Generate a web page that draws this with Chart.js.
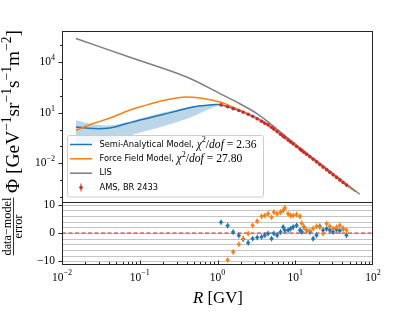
<!DOCTYPE html>
<html>
<head>
<meta charset="utf-8">
<script src="https://cdn.jsdelivr.net/npm/chart.js@4.4.0/dist/chart.umd.min.js"></script>
<style>
html, body { margin: 0; padding: 0; background: #fff; }
#wrap { position: relative; width: 415px; height: 311px; }
canvas { position: absolute; left: 0; top: 0; }
</style>
</head>
<body>
<div id="wrap">
  <canvas id="topChart" width="415" height="311"></canvas>
  <canvas id="resChart" width="415" height="311"></canvas>
</div>
<script>
// LIS
let lisR = [0.0151, 0.0748, 0.401, 1.074, 1.94, 3.18, 4.72, 8.53, 15.4, 34.0, 67.6];
let lisFlux = [2.56e5, 1.98e4, 1340, 138, 34.2, 9.29, 2.38, 0.249, 0.0287, 1.69e-3, 1.44e-4];

// semi-analytical model + its band
let saR = [0.0151, 0.0252, 0.0414, 0.0679, 0.111, 0.182, 0.298, 0.488, 0.724, 1.03, 1.59, 2.48, 4.48, 8.1, 14.0, 30.7, 45.6, 60];
let saFlux = [1.43, 1.15, 1.25, 2.28, 4.11, 7.11, 12.8, 22.1, 27.9, 30.7, 17.8, 8.4, 1.93, 0.236, 0.0343, 0.00205, 0.0005, 2.09e-4];
let bandR = [0.0151, 0.0252, 0.0414, 0.0679, 0.111, 0.182, 0.298, 0.488, 0.724, 1.03];
let bandHi = [3.58, 2.07, 1.81, 2.72, 5.04, 9.33, 15.1, 24.3, 28.6, 31.9];
let bandLo = [0.117, 0.165, 0.232, 0.401, 0.741, 1.37, 2.72, 6.18, 14.1, 27.9];

// force field model
let ffR = [0.0151, 0.0252, 0.0414, 0.0679, 0.111, 0.182, 0.298, 0.401, 0.594, 1.074, 1.59, 2.48, 4.48, 8.1, 14.0, 30.7, 45.6, 60];
let ffFlux = [0.912, 2.28, 4.90, 12.3, 25.3, 48.2, 75.7, 86.7, 75.7, 43.8, 21.0, 8.1, 1.75, 0.225, 0.0344, 0.00206, 0.000503, 2.07e-4];

// AMS BR 2433
let amsR = [1.11, 1.35, 1.59, 1.88, 2.14, 2.48, 2.83, 3.24, 3.69, 4.06, 4.48, 4.96, 5.31, 5.85, 6.47, 6.99, 7.35, 8.10, 8.71, 9.40,
            10.4, 11.5, 12.1, 12.9, 14.0, 15.4, 17.0, 18.8, 20.7, 22.8, 25.3, 27.8, 30.7, 34.0, 37.4, 41.3, 45.6];
let amsFlux = [29.4, 22.7, 17.5, 13.5, 10.7, 8.13, 6.18, 4.40, 3.12, 2.37, 1.91, 1.37, 1.07, 0.762, 0.533, 0.406, 0.340, 0.238, 0.186, 0.142,
               0.0991, 0.0695, 0.0582, 0.0455, 0.0346, 0.0242, 0.0172, 0.0121, 0.00843, 0.00592, 0.00415, 0.00295, 0.00207, 0.00145, 0.00103, 0.000721, 0.000506];

// (data - model) / error
let resSA = [3.8, 2.6, 0.35, -0.9, -2.2, -3.5, -2.0, -1.6, -1.4, -0.8, -0.2, -2.0, -0.2, -0.8, 0.35, 2.1, 1.0, 1.0, 1.5, 2.1,
             2.7, 1.0, 0.4, 2.1, 1.0, 0.4, -2.0, -0.8, 2.4, 1.0, 1.5, 1.0, 0.4, 1.2, 0.8, 1.5, -0.8];
let resFF = [-12.5, -9.6, -6.7, -4.0, -2.0, -0.2, 2.7, 4.2, 5.9, 6.2, 6.8, 5.6, 7.4, 6.8, 7.4, 8.0, 8.9, 6.8, 6.2, 6.2,
             6.6, 5.9, 3.5, 2.1, 1.0, 0.8, 1.6, 2.4, 2.1, -0.2, 3.3, 2.4, 1.5, 2.0, 2.7, 1.6, 1.0];

let xTickExps = [-2, -1, 0, 1, 2];
let topTickExps = [-2, 1, 4];
let resTicks = [-10, 0, 10];
let resGrid = [-10, -8, -6, -4, -2, 0, 2, 4, 6, 8, 10];

const BLUE = '#1f77b4', ORANGE = '#ff7f0e', GREY = '#7f7f7f', RED = '#d62728';
const SERIF = '"Liberation Serif", "DejaVu Serif", serif';
const SANS = '"DejaVu Sans", sans-serif';

let pts = (xs, ys) => xs.map((x, i) => ({ x: x, y: ys[i] }));

// rich text helpers
let N = t => ({ t: t });
let I = t => ({ t: t, it: true });
let S = t => ({ t: t, sup: true });
let fontOf = (s, size) => (s.it ? 'italic ' : '') + (s.sup ? size * 0.7 : size) + 'px ' + SERIF;
let richWidth = (ctx, segs, size) => segs.reduce((w, s) => { ctx.font = fontOf(s, size); return w + ctx.measureText(s.t).width; }, 0);
let drawRich = (ctx, segs, size, x, y) => {
  ctx.textAlign = 'left';
  ctx.textBaseline = 'middle';
  segs.forEach(s => {
    ctx.font = fontOf(s, size);
    ctx.fillText(s.t, x, s.sup ? y - size * 0.36 : y);
    x += ctx.measureText(s.t).width;
  });
};
let powSegs = e => [N('10'), S(e < 0 ? '\u2212' + (-e) : '' + e)];

let spines = (ctx, a) => {
  ctx.strokeStyle = '#262626';
  ctx.lineWidth = 1;
  ctx.strokeRect(Math.round(a.left) + 0.5, Math.round(a.top) + 0.5, Math.round(a.right - a.left) - 1, Math.round(a.bottom - a.top));
};

let topDecor = {
  id: 'topDecor',
  afterDraw(chart) {
    let ctx = chart.ctx, a = chart.chartArea, ys = chart.scales.y;
    ctx.save();
    spines(ctx, a);
    ctx.fillStyle = '#000';
    ctx.strokeStyle = '#262626';
    for (let e = -4; e <= 5; e++) {
      let y = Math.round(ys.getPixelForValue(Math.pow(10, e))) + 0.5;
      let len = topTickExps.includes(e) ? 3.5 : 2;
      ctx.beginPath(); ctx.moveTo(a.left, y); ctx.lineTo(a.left - len, y); ctx.stroke();
    }
    topTickExps.forEach(e => {
      let segs = powSegs(e);
      let w = richWidth(ctx, segs, 11.5);
      drawRich(ctx, segs, 11.5, a.left - 7 - w, ys.getPixelForValue(Math.pow(10, e)));
    });
    // y label
    let yl = [N('\u03A6 [GeV'), S('\u22121'), N('sr'), S('\u22121'), N('s'), S('\u22121'), N('m'), S('\u22122'), N(']')];
    let ysz = 10 * 163 / richWidth(ctx, yl, 10);
    let yw = richWidth(ctx, yl, ysz);
    ctx.save();
    ctx.translate(14, 111.5);
    ctx.rotate(-Math.PI / 2);
    drawRich(ctx, yl, ysz, -yw / 2, 0);
    ctx.restore();

    // legend
    let lx = 67.5, ly = 135.5, lw = 196, lh = 61.5;
    ctx.fillStyle = 'rgba(255,255,255,0.8)';
    ctx.strokeStyle = '#cccccc';
    ctx.lineWidth = 1;
    ctx.beginPath();
    ctx.roundRect(lx, ly, lw, lh, 2);
    ctx.fill(); ctx.stroke();
    let rows = [144.5, 158.8, 173.2, 187.5];
    let names = ['Semi-Analytical Model, ', 'Force Field Model, ', 'LIS', 'AMS, BR 2433'];
    let cols = [BLUE, ORANGE, GREY, RED];
    let maths = [
      [I('\u03C7'), S('2'), N('/'), I('dof'), N(' = 2.36')],
      [I('\u03C7'), S('2'), N('/'), I('dof'), N(' = 27.80')]
    ];
    let msz = 10 * 60 / richWidth(ctx, maths[0], 10);
    rows.forEach((y, i) => {
      ctx.strokeStyle = cols[i];
      ctx.fillStyle = cols[i];
      ctx.lineWidth = 1.5;
      if (i < 3) {
        ctx.beginPath(); ctx.moveTo(70, y); ctx.lineTo(92, y); ctx.stroke();
      } else {
        ctx.lineWidth = 1;
        ctx.beginPath(); ctx.moveTo(81, y - 4); ctx.lineTo(81, y + 4); ctx.stroke();
        ctx.beginPath(); ctx.arc(81, y, 1.8, 0, Math.PI * 2); ctx.fill();
      }
      ctx.fillStyle = '#000';
      ctx.font = '8.3px ' + SANS;
      ctx.textAlign = 'left';
      ctx.textBaseline = 'middle';
      ctx.fillText(names[i], 99.5, y);
      if (i < 2) drawRich(ctx, maths[i], msz, 99.5 + ctx.measureText(names[i]).width, y);
    });
    ctx.restore();
  }
};

let resDecor = {
  id: 'resDecor',
  beforeDatasetsDraw(chart) {
    let ctx = chart.ctx, a = chart.chartArea, xs = chart.scales.x, ys = chart.scales.y;
    ctx.save();
    ctx.strokeStyle = '#c4c4c4';
    ctx.lineWidth = 1;
    resGrid.forEach(v => {
      let y = Math.round(ys.getPixelForValue(v)) + 0.5;
      ctx.beginPath(); ctx.moveTo(a.left, y); ctx.lineTo(a.right, y); ctx.stroke();
    });
    // error bars
    ctx.beginPath(); ctx.rect(a.left, a.top, a.right - a.left, a.bottom - a.top); ctx.clip();
    [[resSA, BLUE], [resFF, ORANGE]].forEach(([vals, c]) => {
      ctx.strokeStyle = c;
      vals.forEach((v, i) => {
        let x = xs.getPixelForValue(amsR[i]);
        ctx.beginPath(); ctx.moveTo(x, ys.getPixelForValue(v - 1)); ctx.lineTo(x, ys.getPixelForValue(v + 1)); ctx.stroke();
      });
    });
    ctx.restore();
  },
  afterDraw(chart) {
    let ctx = chart.ctx, a = chart.chartArea, xs = chart.scales.x, ys = chart.scales.y;
    ctx.save();
    spines(ctx, a);
    ctx.strokeStyle = '#262626';
    ctx.lineWidth = 1;
    // x ticks (inward)
    for (let e = -2; e < 2; e++) {
      for (let m = 1; m < 10; m++) {
        let x = Math.round(xs.getPixelForValue(m * Math.pow(10, e))) + 0.5;
        let len = m === 1 ? 3.5 : 2;
        ctx.beginPath(); ctx.moveTo(x, a.bottom); ctx.lineTo(x, a.bottom - len); ctx.stroke();
      }
    }
    resTicks.forEach(v => {
      let y = Math.round(ys.getPixelForValue(v)) + 0.5;
      ctx.beginPath(); ctx.moveTo(a.left, y); ctx.lineTo(a.left - 3.5, y); ctx.stroke();
    });
    ctx.fillStyle = '#000';
    xTickExps.forEach(e => {
      let segs = powSegs(e);
      let w = richWidth(ctx, segs, 11.5);
      drawRich(ctx, segs, 11.5, xs.getPixelForValue(Math.pow(10, e)) - w / 2, 277.5);
    });
    resTicks.forEach(v => {
      let segs = [N(v < 0 ? '\u2212' + (-v) : '' + v)];
      let w = richWidth(ctx, segs, 11.5);
      drawRich(ctx, segs, 11.5, a.left - 7 - w, ys.getPixelForValue(v));
    });
    // x label
    let xl = [I('R'), N(' [GV]')];
    let xsz = 10 * 50 / richWidth(ctx, xl, 10);
    drawRich(ctx, xl, xsz, 218 - 25, 298.5);
    // residual label as a fraction
    let num = [N('data\u2212model')], den = [N('error')];
    let fsz = 10 * 58 / richWidth(ctx, num, 10);
    let nw = richWidth(ctx, num, fsz), dw = richWidth(ctx, den, fsz);
    ctx.save();
    ctx.translate(13, 226.5);
    ctx.rotate(-Math.PI / 2);
    drawRich(ctx, num, fsz, -nw / 2, -5.5);
    drawRich(ctx, den, fsz, -dw / 2, 5.5);
    ctx.lineWidth = 0.8;
    ctx.strokeStyle = '#000';
    ctx.beginPath(); ctx.moveTo(-nw / 2, 0.5); ctx.lineTo(nw / 2, 0.5); ctx.stroke();
    ctx.restore();
    ctx.restore();
  }
};

let lineSet = (label, xs, ys, color) => ({
  label: label,
  data: pts(xs, ys),
  showLine: true,
  borderColor: color,
  backgroundColor: color,
  borderWidth: 1.5,
  pointRadius: 0,
  fill: false,
  tension: 0.35
});

let baseOptions = (pad, yScale) => ({
  responsive: false,
  animation: false,
  events: [],
  layout: { padding: pad },
  plugins: { legend: { display: false }, tooltip: { enabled: false } },
  scales: {
    x: { type: 'logarithmic', min: 0.01, max: 100, display: false },
    y: yScale
  }
});

new Chart(document.getElementById('topChart'), {
  type: 'scatter',
  data: {
    datasets: [
      { label: 'AMS, BR 2433', data: pts(amsR, amsFlux), pointRadius: 1.8, pointBorderWidth: 0, backgroundColor: RED, borderColor: RED },
      lineSet('LIS', lisR, lisFlux, GREY),
      lineSet('Force Field Model', ffR, ffFlux, ORANGE),
      lineSet('Semi-Analytical Model', saR, saFlux, BLUE),
      { label: 'band hi', data: pts(bandR, bandHi), showLine: true, borderColor: 'rgba(0,0,0,0)', pointRadius: 0, fill: false, tension: 0.35 },
      { label: 'band lo', data: pts(bandR, bandLo), showLine: true, borderColor: 'rgba(0,0,0,0)', pointRadius: 0, fill: '-1',
        backgroundColor: 'rgba(31,119,180,0.3)', tension: 0.35 }
    ]
  },
  options: baseOptions({ left: 62, right: 42, top: 31, bottom: 109 },
    { type: 'logarithmic', min: 5.0e-5, max: 7.2e5, display: false }),
  plugins: [topDecor]
});

new Chart(document.getElementById('resChart'), {
  type: 'scatter',
  data: {
    datasets: [
      { label: 'FF', data: pts(amsR, resFF), pointStyle: 'rectRot', pointRadius: 2.3, pointBorderWidth: 0, backgroundColor: ORANGE, borderColor: ORANGE, clip: 0 },
      { label: 'SA', data: pts(amsR, resSA), pointStyle: 'rectRot', pointRadius: 2.3, pointBorderWidth: 0, backgroundColor: BLUE, borderColor: BLUE, clip: 0 },
      { label: 'zero', data: [{ x: 0.01, y: 0 }, { x: 100, y: 0 }], showLine: true, borderColor: RED, borderWidth: 1.2,
        borderDash: [4, 2.5], pointRadius: 0 }
    ]
  },
  options: baseOptions({ left: 62, right: 42, top: 202, bottom: 47 },
    { min: -11, max: 11, display: false }),
  plugins: [resDecor]
});
</script>
</body>
</html>
